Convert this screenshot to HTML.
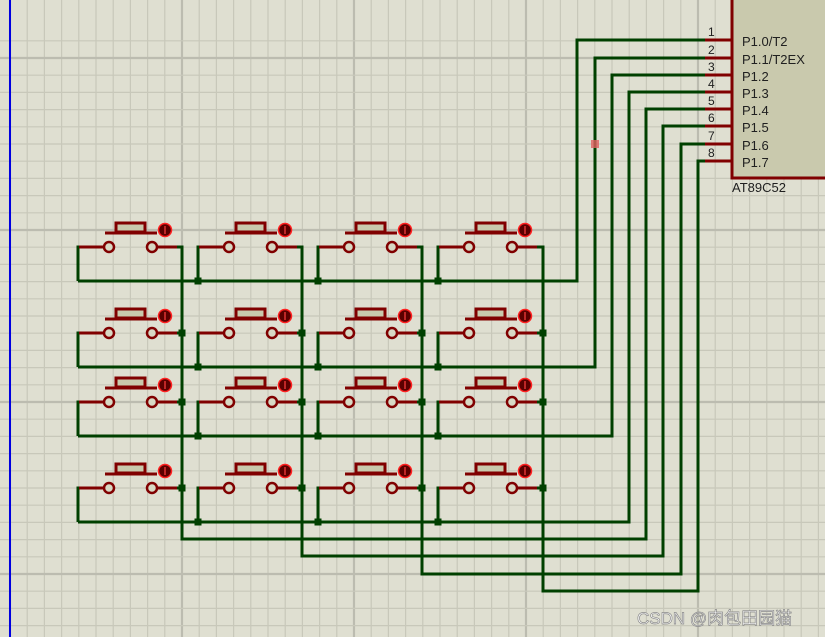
<!DOCTYPE html>
<html><head><meta charset="utf-8"><style>
html,body{margin:0;padding:0;background:#dfdfd1;overflow:hidden}
svg{display:block}
</style></head><body>
<svg id="s" width="825" height="637" xmlns="http://www.w3.org/2000/svg" font-family="Liberation Sans, Noto Sans CJK SC, sans-serif">
<rect width="825" height="637" fill="#dfdfd1"/>
<g id="grid"></g>
<line x1="10" y1="0" x2="10" y2="637" stroke="#0000e0" stroke-width="2"/>
<g id="wires" fill="none" stroke="#004000" stroke-width="3"></g>
<g id="parts"></g>
<g id="chip">
<rect x="732" y="-5" width="100" height="183" fill="#c9c9ad" stroke="#800000" stroke-width="3"/>
</g>
<text x="732" y="192" font-size="13" fill="#202020">AT89C52</text>
<text x="637" y="624" font-size="17" fill="#ffffff" stroke="#8a8a8a" stroke-width="0.7">CSDN @肉包田园猫</text>
</svg>
<script>
const NS="http://www.w3.org/2000/svg";
function el(p,t,a,txt){const e=document.createElementNS(NS,t);for(const k in a)e.setAttribute(k,a[k]);if(txt!==undefined)e.textContent=txt;document.getElementById(p).appendChild(e);return e;}
for(let i=0;i<50;i++){const x=10+17.2*i;const maj=i%10==0;if(x>825)break;el('grid','line',{x1:x,y1:0,x2:x,y2:637,stroke:maj?'#bcbcb0':'#c8c8ba','stroke-width':maj?2.2:1.2});}
for(let i=-1;i<40;i++){const y=58+17.2*i;if(y>637)break;const maj=(i%10+10)%10==0;el('grid','line',{x1:0,y1:y,x2:825,y2:y,stroke:maj?'#bcbcb0':'#c8c8ba','stroke-width':maj?2.2:1.2});}
const pinY=[40,58,75,92,109,126,144,161];
const names=['P1.0/T2','P1.1/T2EX','P1.2','P1.3','P1.4','P1.5','P1.6','P1.7'];
const busX=[577,595,612,629,646,663,681,698];
const rowPin=[247,333,402,488], rowLine=[281,367,436,522];
const colR=[182,302,422,543], colL=[78,198,318,438], colBot=[539,556,574,591];
for(let r=0;r<4;r++){
  el('wires','polyline',{points:`78,${rowLine[r]} ${busX[r]},${rowLine[r]} ${busX[r]},${pinY[r]} 705,${pinY[r]}`});
  for(let c=0;c<4;c++){
    el('wires','polyline',{points:`${colL[c]+22},${rowPin[r]} ${colL[c]},${rowPin[r]} ${colL[c]},${rowLine[r]}`});
    if(c>0) el('wires','rect',{x:colL[c]-3.5,y:rowLine[r]-3.5,width:7,height:7,fill:'#004000',stroke:'none'});
  }
}
for(let c=0;c<4;c++){
  el('wires','polyline',{points:`${colR[c]-18},${rowPin[0]} ${colR[c]},${rowPin[0]} ${colR[c]},${colBot[c]} ${busX[c+4]},${colBot[c]} ${busX[c+4]},${pinY[c+4]} 705,${pinY[c+4]}`});
  for(let r=1;r<4;r++){
    el('wires','line',{x1:colR[c]-18,y1:rowPin[r],x2:colR[c],y2:rowPin[r]});
    el('wires','rect',{x:colR[c]-3.5,y:rowPin[r]-3.5,width:7,height:7,fill:'#004000',stroke:'none'});
  }
}
for(let r=0;r<4;r++)for(let c=0;c<4;c++){
  const ox=120*c, y=rowPin[r];
  const lx=109+ox, rx=152+ox;
  el('parts','line',{x1:lx-30,y1:y,x2:lx-5,y2:y,stroke:'#800000','stroke-width':3});
  el('parts','line',{x1:rx+5,y1:y,x2:rx+25,y2:y,stroke:'#800000','stroke-width':3});
  el('parts','circle',{cx:lx,cy:y,r:5,fill:'#d8d8c4',stroke:'#800000','stroke-width':2.5});
  el('parts','circle',{cx:rx,cy:y,r:5,fill:'#d8d8c4',stroke:'#800000','stroke-width':2.5});
  el('parts','line',{x1:105+ox,y1:y-14,x2:157+ox,y2:y-14,stroke:'#800000','stroke-width':3});
  el('parts','rect',{x:116+ox,y:y-24,width:29,height:9,fill:'#c9c9ad',stroke:'#800000','stroke-width':3});
  el('parts','circle',{cx:165+ox,cy:y-17,r:6.5,fill:'#5a0000',stroke:'#ff2020','stroke-width':1.5});
  el('parts','line',{x1:165+ox,y1:y-21,x2:165+ox,y2:y-13,stroke:'#ff4040','stroke-width':1.2});
}
for(let i=0;i<8;i++){
  el('chip','line',{x1:705,y1:pinY[i],x2:732,y2:pinY[i],stroke:'#800000','stroke-width':3});
  el('chip','text',{x:708,y:pinY[i]-4,'font-size':12,fill:'#202020'},String(i+1));
  el('chip','text',{x:742,y:pinY[i]+6,'font-size':13,fill:'#202020'},names[i]);
}
el('parts','rect',{x:591,y:140,width:8,height:8,fill:'#e06060','fill-opacity':0.8});
</script>
</body></html>
